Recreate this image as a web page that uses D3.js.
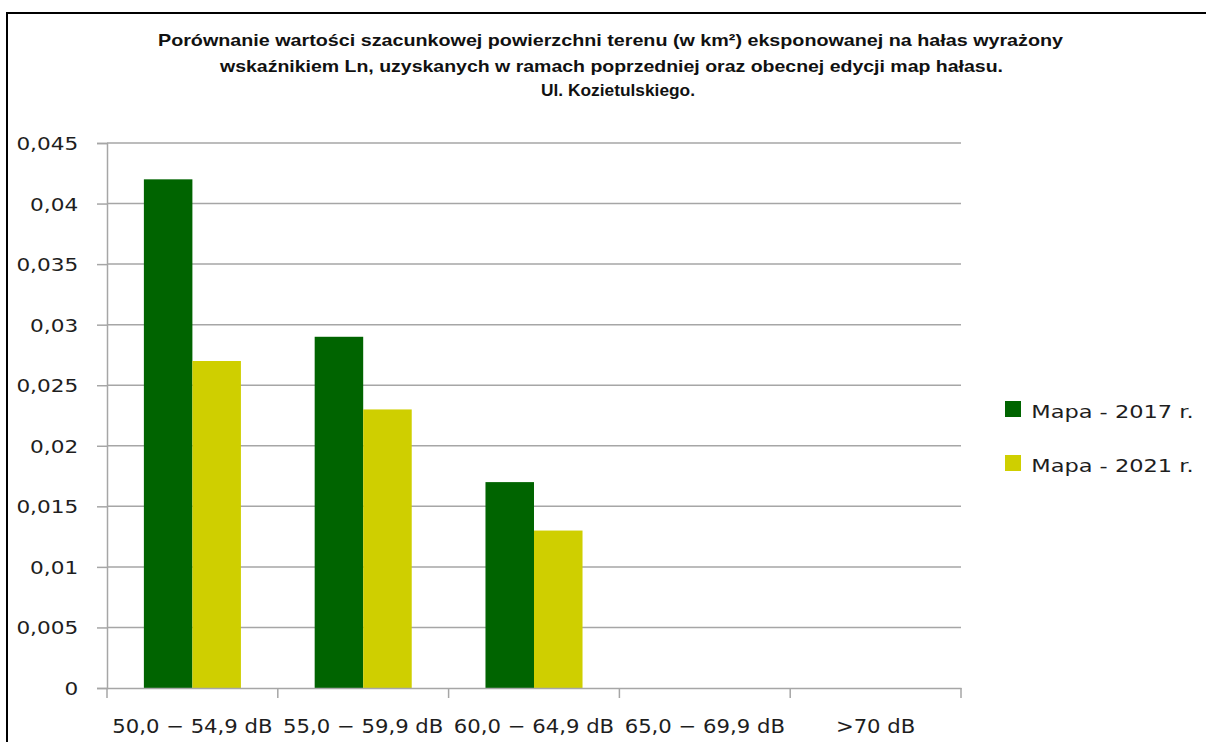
<!DOCTYPE html>
<html lang="pl">
<head>
<meta charset="utf-8">
<script src="https://cdn.jsdelivr.net/npm/d3@7"></script>
<style>
  html, body { margin: 0; padding: 0; background: #fff; }
  svg { display: block; }
  .tick text { font-family: "DejaVu Sans", Verdana, sans-serif; fill: #1e1e1e; }
  .title { font-family: "Liberation Sans Narrow", "Liberation Sans", Arial, sans-serif; font-weight: bold; font-size: 17px; fill: #111; }
  .legend text { font-family: "DejaVu Sans", Verdana, sans-serif; font-size: 18px; fill: #1e1e1e; }
</style>
</head>
<body>
<svg id="chart" width="1206" height="742"></svg>
<script>
// Noise exposure categories (Ln indicator)
const categories = ["50,0 − 54,9 dB", "55,0 − 59,9 dB", "60,0 − 64,9 dB", "65,0 − 69,9 dB", ">70 dB"];
// Area exposed, km²
const map2017 = [0.042, 0.029, 0.017, 0, 0];
const map2021 = [0.027, 0.023, 0.013, 0, 0];
const seriesNames = ["Mapa - 2017 r.", "Mapa - 2021 r."];
const seriesColors = ["#006400", "#cfcf00"];
const yTicks = [0, 0.005, 0.01, 0.015, 0.02, 0.025, 0.03, 0.035, 0.04, 0.045];
const titleLines = [
  "Porównanie wartości szacunkowej powierzchni terenu (w km²) eksponowanej na hałas wyrażony",
  "wskaźnikiem Ln, uzyskanych w ramach poprzedniej oraz obecnej edycji map hałasu.",
  "Ul. Kozietulskiego."
];

const svg = d3.select("#chart");
const plot = { left: 107, right: 961, top: 143, bottom: 688 };
const gridColor = "#a6a6a6";
const plLocale = d3.formatLocale({ decimal: ",", thousands: " ", grouping: [3], currency: ["", " zł"] });
const fmt = plLocale.format("~r");

// outer frame
svg.append("rect")
  .attr("x", 7).attr("y", 13).attr("width", 1230).attr("height", 760)
  .attr("fill", "none").attr("stroke", "#000").attr("stroke-width", 2);

// title
const titleX = [610.5, 611.5, 618];
const titleY = [46, 72, 96];
const titleW = [905, 783, 154];
svg.append("g").selectAll("text").data(titleLines).join("text")
  .attr("class", "title")
  .attr("x", (d, i) => titleX[i]).attr("y", (d, i) => titleY[i])
  .attr("text-anchor", "middle")
  .attr("textLength", (d, i) => titleW[i])
  .attr("lengthAdjust", "spacingAndGlyphs")
  .text(d => d);

// scales
const x = d3.scaleBand().domain(categories).range([plot.left, plot.right]).paddingInner(0).paddingOuter(0);
const xs = d3.scaleBand().domain(seriesNames).range([0, x.bandwidth()]).paddingInner(0).paddingOuter(0.76);
const y = d3.scaleLinear().domain([0, 0.045]).range([plot.bottom, plot.top]);

// horizontal gridlines
svg.append("g").selectAll("line").data(yTicks.filter(t => t > 0)).join("line")
  .attr("x1", plot.left).attr("x2", plot.right)
  .attr("y1", d => y(d)).attr("y2", d => y(d))
  .attr("stroke", gridColor).attr("stroke-width", 1.5);

// y axis
const yAxis = svg.append("g").attr("transform", `translate(${plot.left},0)`)
  .call(d3.axisLeft(y).tickValues(yTicks).tickFormat(fmt).tickSize(10).tickPadding(0));
yAxis.select(".domain").attr("stroke", gridColor).attr("stroke-width", 1.5);
yAxis.selectAll(".tick line").attr("stroke", gridColor).attr("stroke-width", 1.5);
yAxis.selectAll(".tick text")
  .attr("x", -24).attr("dy", "0.36em")
  .attr("font-size", 18)
  .attr("transform", "scale(1.2,1)");

// bars
const seriesData = [map2017, map2021];
const groups = svg.append("g").selectAll("g").data(seriesData).join("g")
  .attr("fill", (d, i) => seriesColors[i]);
groups.each(function (vals, si) {
  d3.select(this).selectAll("rect").data(vals).join("rect")
    .attr("x", (v, ci) => x(categories[ci]) + xs(seriesNames[si]))
    .attr("width", xs.bandwidth())
    .attr("y", v => y(v))
    .attr("height", v => y(0) - y(v));
});

// x axis
const xAxis = svg.append("g").attr("transform", `translate(0,${plot.bottom})`)
  .call(d3.axisBottom(x).tickSize(0).tickPadding(0));
xAxis.select(".domain").attr("stroke", gridColor).attr("stroke-width", 1.5);
xAxis.selectAll(".tick text")
  .attr("y", 45).attr("dy", 0)
  .attr("font-size", 20)
  .attr("transform", "scale(1.06,1)");
// boundary ticks between categories
const bounds = categories.map(c => x(c)).concat([x(categories[categories.length - 1]) + x.bandwidth()]);
xAxis.append("g").selectAll("line").data(bounds).join("line")
  .attr("x1", d => d).attr("x2", d => d).attr("y1", 0).attr("y2", 10)
  .attr("stroke", gridColor).attr("stroke-width", 1.5);

// legend
const legend = svg.append("g").attr("class", "legend").attr("transform", "translate(1005,401)");
const li = legend.selectAll("g").data(seriesNames).join("g")
  .attr("transform", (d, i) => `translate(0,${i * 54})`);
li.append("rect").attr("width", 16).attr("height", 16).attr("fill", (d, i) => seriesColors[i]);
li.append("text").attr("x", 21).attr("y", 17)
  .attr("font-size", 18.5)
  .attr("transform", "scale(1.25,1)")
  .text(d => d);
</script>
</body>
</html>
